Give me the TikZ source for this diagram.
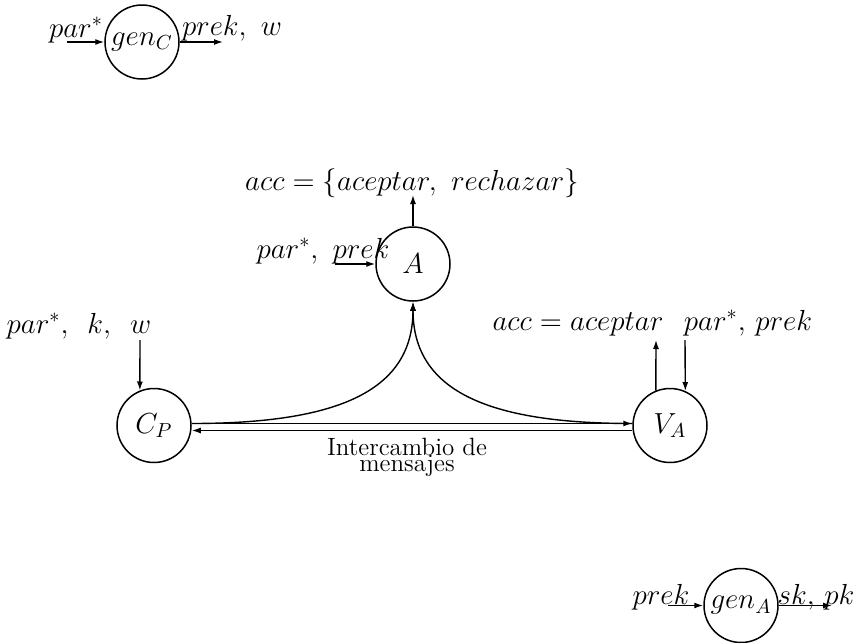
\RequirePackage{fix-cm}
\documentclass[tikz,border=0pt]{standalone}
\usetikzlibrary{arrows.meta}
\begin{document}
\lineskiplimit=-20pt\relax
\begin{tikzpicture}[x=0.5pt,y=-0.5pt,
  proc/.style={draw,circle,line width=0.75pt,minimum size=37pt,inner sep=0pt},
  lbl/.style={inner sep=0pt,anchor=base},
  arr/.style={line width=0.7pt,-{Latex[length=4.5pt,width=3pt]}},
  font=\fontsize{14.5}{17}\selectfont]
\useasboundingbox[fill=white] (0,0) rectangle (853,643);

% gen_C
\node[proc] (genC) at (142,42) {$gen_C$};
\node[lbl] (genCin) at (76,37) {$par^*$};
\node[lbl] (genCout) at (232,35) {$prek,\ w$};
\coordinate (genCa) at (67,42);
\coordinate (genCb) at (223,42);
\draw[arr] (genCa) -- (genC.west);
\draw[arr] (genC.east) -- (genCb);

% A
\node[proc] (A) at (413,264) {$A$};
\node[lbl] (accA) at (412,190) {$acc=\{aceptar,\ rechazar\}$};
\coordinate (Aout) at (413,195);
\draw[arr] (A.north) -- (Aout);
\node[lbl] (Ain) at (323,258) {$par^*,\ prek$};
\coordinate (Aa) at (335,264);
\draw[arr] (Aa) -- (A.west);

% C_P
\node[proc] (CP) at (154,425.5) {$C_P$};
\node[lbl] (CPin) at (79,333) {$par^*,\ \,k,\ \,w$};
\coordinate (CPa) at (140,340);
\draw[arr] (CPa) -- (CP.112);

% V_A
\node[proc] (VA) at (670,425.5) {$V_A$};
\node[lbl] (VAacc) at (578,330) {$acc=aceptar$};
\node[lbl] (VAin) at (748,330) {$par^*,\,prek$};
\coordinate (VAup) at (656,340);
\coordinate (VAdn) at (685,340);
\draw[arr] (VA.112) -- (VAup);
\draw[arr] (VAdn) -- (VA.66);

% message exchange
\draw[arr] ([yshift=1pt]CP.east) -- ([yshift=1pt]VA.west);
\draw[arr] ([yshift=-2.5pt]VA.west) -- ([yshift=-2.5pt]CP.east);
\draw[arr] ([yshift=1pt]CP.east) .. controls (340,423.5) and (413,390) .. (A.south);
\draw[arr] ([yshift=1pt]VA.west) .. controls (486,423.5) and (413,390) .. (A.south);
\node[inner sep=0pt,anchor=north,align=center,
  font=\fontsize{12.5}{7.8}\selectfont] (msg) at (407,438)
  {Intercambio de\\mensajes};

% gen_A
\node[proc] (genA) at (741,605.5) {$gen_A$};
\node[lbl] (genAin) at (661,604) {$prek$};
\node[lbl] (genAout) at (816,604) {$sk,\,pk$};
\coordinate (gAa) at (668,605.5);
\coordinate (gAb) at (832,605.5);
\draw[arr] (gAa) -- (genA.west);
\draw[arr] (genA.east) -- (gAb);
\end{tikzpicture}
\end{document}
